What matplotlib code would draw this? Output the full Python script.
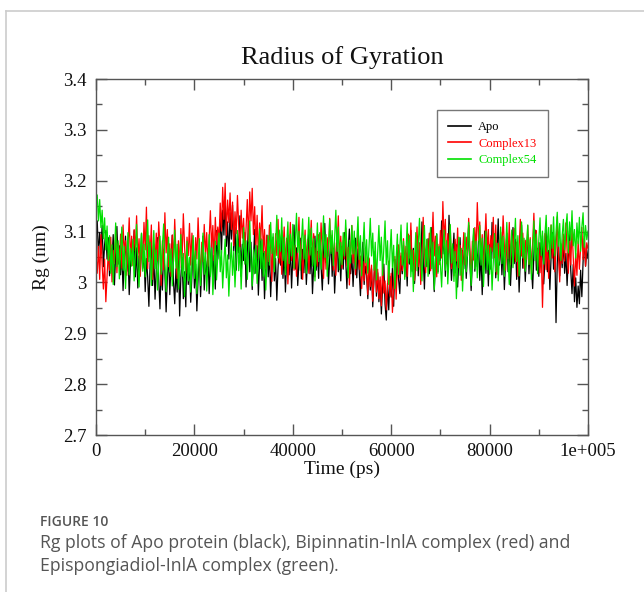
import numpy as np
import matplotlib
matplotlib.use("Agg")
import matplotlib.pyplot as plt
from matplotlib.lines import Line2D
from matplotlib.ticker import MultipleLocator

# ---------------- data (Rg in nm, sampled every 250 ps) ----------------
time_step_ps = 250
apo = [
    3.085, 3.121, 3.052, 3.098, 3.064, 3.112, 3.031, 3.074, 3.102, 3.046,
    3.088, 3.013, 3.067, 3.041, 3.094, 2.995, 3.058, 3.110, 3.036, 3.072,
    3.015, 3.063, 2.984, 3.047, 3.091, 3.022, 3.058, 2.976, 3.034, 3.081,
    3.043, 3.102, 3.011, 3.068, 2.989, 3.052, 3.017, 3.096, 3.028, 3.061,
    2.982, 3.047, 3.011, 2.953, 3.036, 3.078, 2.994, 3.052, 2.967, 3.024,
    3.088, 3.006, 2.948, 3.031, 2.985, 3.064, 3.019, 2.942, 3.008, 3.057,
    2.976, 3.041, 3.093, 3.002, 2.958, 3.027, 2.981, 3.066, 2.934, 3.012,
    3.049, 2.968, 3.021, 2.952, 3.075, 2.996, 3.038, 2.961, 3.014, 3.082,
    2.989, 3.036, 2.944, 3.007, 3.059, 2.972, 3.028, 3.091, 2.985, 3.043,
    3.012, 3.067, 2.978, 3.035, 3.084, 3.001, 3.053, 2.987, 3.102, 3.046,
    3.081, 3.124, 3.057, 3.142, 3.093, 3.168, 3.071, 3.119, 3.046, 3.137,
    3.085, 3.152, 3.062, 3.109, 3.024, 3.097, 3.058, 3.131, 3.012, 3.075,
    3.043, 3.098, 2.991, 3.062, 3.115, 3.021, 3.079, 2.986, 3.047, 3.104,
    3.018, 3.072, 2.975, 3.039, 3.086, 3.004, 3.061, 2.968, 3.025, 3.093,
    3.011, 3.058, 2.972, 3.036, 3.089, 3.003, 3.047, 2.965, 3.029, 3.077,
    3.034, 3.102, 3.008, 3.063, 2.981, 3.045, 3.092, 3.015, 3.071, 2.989,
    3.052, 3.113, 3.026, 3.068, 2.994, 3.041, 3.087, 3.007, 3.065, 3.019,
    3.076, 2.996, 3.043, 3.104, 3.017, 3.069, 2.978, 3.035, 3.091, 3.024,
    3.061, 3.008, 3.097, 3.032, 2.985, 3.054, 3.116, 3.039, 3.073, 2.997,
    3.046, 3.089, 3.012, 3.067, 2.979, 3.038, 3.094, 3.021, 3.058, 3.003,
    3.071, 3.026, 3.098, 3.043, 2.988, 3.062, 3.105, 3.017, 3.054, 2.992,
    3.048, 3.087, 3.009, 3.066, 3.023, 2.974, 3.041, 3.079, 2.996, 3.032,
    3.014, 2.968, 3.046, 2.985, 3.027, 2.952, 3.008, 3.061, 2.973, 3.019,
    2.962, 3.004, 2.938, 2.991, 3.036, 2.957, 2.926, 2.998, 2.946, 3.012,
    2.971, 3.028, 2.953, 3.045, 2.989, 3.064, 3.006, 2.978, 3.052, 3.017,
    3.073, 3.011, 3.058, 2.993, 3.084, 3.036, 3.102, 3.022, 3.067, 2.998,
    3.045, 3.091, 3.013, 3.072, 3.028, 3.119, 3.054, 2.987, 3.063, 3.031,
    3.086, 3.017, 3.059, 3.108, 3.034, 2.982, 3.047, 3.095, 3.021, 3.069,
    3.043, 3.121, 3.056, 3.094, 3.012, 3.077, 3.028, 3.132, 3.061, 3.004,
    3.052, 3.097, 3.019, 3.074, 2.991, 3.046, 3.088, 3.015, 3.063, 3.027,
    3.079, 3.008, 3.053, 3.112, 3.036, 2.984, 3.041, 3.096, 3.022, 3.068,
    3.031, 3.083, 3.004, 3.057, 2.976, 3.042, 3.101, 3.018, 3.066, 2.993,
    3.074, 3.026, 3.118, 3.047, 3.093, 3.009, 3.061, 3.125, 3.034, 3.082,
    3.015, 3.068, 2.986, 3.043, 3.097, 3.021, 3.076, 2.994, 3.052, 3.108,
    3.037, 3.085, 3.006, 3.062, 2.981, 3.049, 3.113, 3.028, 3.071, 3.002,
    3.058, 3.094, 3.017, 3.073, 3.032, 2.988, 3.056, 3.103, 3.024, 3.067,
    3.012, 3.078, 3.035, 3.092, 2.997, 3.044, 3.106, 3.021, 3.063, 2.986,
    3.051, 3.098, 3.026, 3.072, 2.921, 3.038, 3.087, 3.013, 3.065, 3.029,
    3.084, 3.018, 3.057, 2.994, 3.046, 3.101, 3.023, 2.978, 3.035, 2.962,
    3.009, 2.951, 2.993, 2.958, 3.024, 2.972, 3.041, 3.086, 3.032, 3.064,
    3.047,
]
complex13 = [
    3.052, 3.018, 3.071, 3.006, 3.094, 3.035, 2.987, 3.046, 2.962, 3.013,
    3.058, 3.024, 3.089, 3.001, 3.063, 3.037, 3.102, 3.019, 3.076, 3.042,
    3.095, 3.028, 3.113, 3.057, 3.082, 3.014, 3.068, 3.127, 3.045, 3.091,
    3.033, 3.104, 3.062, 3.131, 3.048, 3.086, 3.012, 3.073, 3.039, 3.118,
    3.064, 3.148, 3.027, 3.092, 3.051, 3.113, 3.006, 3.075, 3.036, 3.097,
    3.043, 3.119, 3.068, 2.994, 3.082, 3.025, 3.137, 3.058, 3.104, 3.031,
    3.076, 3.012, 3.093, 3.041, 3.124, 3.057, 3.008, 3.082, 3.029, 3.106,
    3.047, 3.135, 3.072, 3.018, 3.089, 3.053, 3.116, 3.034, 3.097, 3.063,
    3.021, 3.088, 3.046, 3.127, 3.062, 3.009, 3.079, 3.041, 3.114, 3.055,
    3.098, 3.032, 3.086, 3.141, 3.067, 3.112, 3.043, 3.128, 3.074, 3.109,
    3.082, 3.156, 3.101, 3.187, 3.124, 3.195, 3.093, 3.162, 3.118, 3.176,
    3.104, 3.158, 3.072, 3.139, 3.096, 3.171, 3.113, 3.064, 3.142, 3.087,
    3.126, 3.058, 3.107, 3.163, 3.081, 3.178, 3.121, 3.185, 3.094, 3.149,
    3.068, 3.132, 3.046, 3.117, 3.083, 3.151, 3.059, 3.104, 3.027, 3.092,
    3.041, 3.113, 3.067, 3.002, 3.085, 3.028, 3.096, 3.053, 3.124, 3.038,
    3.079, 3.016, 3.062, 3.109, 3.031, 3.087, 2.997, 3.054, 3.118, 3.043,
    3.091, 3.024, 3.073, 3.012, 3.065, 3.128, 3.047, 3.082, 3.006, 3.059,
    3.103, 3.036, 3.085, 3.018, 3.071, 3.122, 3.044, 3.096, 3.011, 3.068,
    3.032, 3.094, 3.049, 3.117, 3.063, 3.008, 3.079, 3.026, 3.088, 3.052,
    3.126, 3.061, 3.093, 3.024, 3.078, 3.014, 3.067, 3.131, 3.045, 3.091,
    3.028, 3.082, 3.046, 3.107, 3.033, 3.069, 2.995, 3.056, 3.112, 3.038,
    3.074, 3.015, 3.063, 3.097, 3.026, 3.052, 2.988, 3.041, 3.003, 3.067,
    3.021, 2.976, 3.048, 2.992, 3.034, 2.963, 3.012, 3.057, 2.981, 3.026,
    2.968, 3.011, 2.954, 3.037, 2.979, 3.003, 2.946, 2.991, 3.042, 2.973,
    3.018, 2.941, 2.989, 3.051, 2.967, 3.032, 3.074, 3.009, 3.058, 3.023,
    3.086, 3.034, 3.071, 3.012, 3.095, 3.048, 3.117, 3.026, 3.063, 3.004,
    3.057, 3.109, 3.031, 3.078, 2.996, 3.046, 3.128, 3.062, 3.019, 3.084,
    3.041, 3.097, 3.023, 3.069, 3.138, 3.052, 3.091, 3.011, 3.075, 3.035,
    3.102, 3.048, 3.159, 3.083, 3.124, 3.037, 3.096, 3.058, 3.112, 3.027,
    3.066, 3.013, 3.085, 3.042, 3.107, 3.029, 3.073, 3.004, 3.054, 3.098,
    3.035, 3.089, 3.052, 3.126, 3.067, 3.014, 3.081, 3.044, 3.108, 3.061,
    3.157, 3.082, 3.119, 3.046, 3.094, 3.023, 3.071, 3.135, 3.058, 3.104,
    3.037, 3.092, 3.061, 3.128, 3.049, 3.113, 3.016, 3.077, 3.042, 3.099,
    3.063, 3.131, 3.072, 3.024, 3.086, 3.047, 3.118, 3.035, 3.092, 3.058,
    3.106, 3.041, 3.079, 3.012, 3.068, 3.124, 3.052, 3.097, 3.028, 3.083,
    3.045, 3.112, 3.036, 3.088, 3.017, 3.074, 3.136, 3.059, 3.102, 3.031,
    3.078, 3.019, 3.064, 2.951, 3.043, 3.096, 3.025, 3.087, 3.008, 3.071,
    3.113, 3.048, 3.092, 3.021, 3.067, 3.129, 3.054, 3.001, 3.076, 3.037,
    3.095, 3.042, 3.117, 3.063, 3.018, 3.081, 3.034, 3.106, 3.049, 2.993,
    3.057, 3.014, 3.082, 3.026, 3.069, 3.108, 3.045, 3.091, 3.032, 3.078,
    3.066,
]
complex54 = [
    3.148, 3.172, 3.121, 3.163, 3.108, 3.142, 3.086, 3.127, 3.064, 3.111,
    3.043, 3.092, 3.018, 3.074, 2.996, 3.058, 3.117, 3.031, 3.082, 3.007,
    3.063, 3.109, 3.024, 3.071, 2.988, 3.046, 3.098, 3.015, 3.067, 3.032,
    3.085, 3.003, 3.052, 3.114, 3.036, 2.991, 3.061, 3.097, 3.022, 3.075,
    3.011, 3.068, 3.123, 3.041, 3.079, 2.994, 3.053, 3.102, 3.027, 3.064,
    2.985, 3.038, 3.091, 3.016, 3.072, 3.115, 3.034, 2.982, 3.047, 3.089,
    3.021, 3.066, 2.993, 3.044, 3.103, 3.028, 3.075, 2.987, 3.039, 3.094,
    3.012, 3.057, 2.972, 3.026, 3.081, 3.003, 3.049, 2.981, 3.035, 3.092,
    3.008, 3.062, 2.978, 3.031, 3.086, 2.994, 3.043, 3.097, 3.016, 3.059,
    2.983, 3.037, 3.094, 3.012, 3.068, 2.976, 3.024, 3.081, 3.005, 3.051,
    3.097, 3.021, 3.063, 2.989, 3.041, 3.085, 3.009, 3.054, 2.973, 3.032,
    3.078, 3.014, 3.061, 2.991, 3.046, 3.102, 3.023, 3.069, 2.987, 3.053,
    3.108, 3.036, 3.082, 3.006, 3.057, 3.121, 3.042, 2.993, 3.064, 3.017,
    3.073, 2.998, 3.046, 3.105, 3.027, 3.084, 3.012, 3.061, 2.985, 3.039,
    3.092, 3.034, 3.118, 3.057, 3.096, 3.021, 3.074, 3.132, 3.048, 3.103,
    3.061, 3.127, 3.043, 3.089, 3.015, 3.072, 3.119, 3.037, 3.095, 3.052,
    3.114, 3.028, 3.083, 3.136, 3.059, 3.101, 3.024, 3.078, 3.125, 3.046,
    3.093, 3.018, 3.071, 3.128, 3.054, 3.107, 3.032, 3.086, 3.003, 3.062,
    3.117, 3.041, 3.098, 3.026, 3.075, 3.131, 3.049, 3.094, 3.012, 3.068,
    3.124, 3.057, 3.102, 3.033, 3.087, 3.142, 3.061, 3.109, 3.025, 3.079,
    3.035, 3.098, 3.052, 3.123, 3.064, 3.009, 3.083, 3.038, 3.112, 3.056,
    3.101, 3.027, 3.076, 3.129, 3.045, 3.092, 3.013, 3.067, 3.118, 3.039,
    3.084, 3.018, 3.071, 3.126, 3.052, 3.097, 3.024, 3.079, 3.005, 3.061,
    3.112, 3.043, 3.089, 3.014, 3.066, 3.121, 3.035, 3.082, 2.996, 3.058,
    3.104, 3.029, 3.073, 2.988, 3.047, 3.095, 3.016, 3.068, 3.113, 3.034,
    3.081, 3.006, 3.059, 3.117, 3.038, 3.092, 3.011, 3.064, 2.982, 3.045,
    3.098, 3.023, 3.074, 3.126, 3.049, 3.003, 3.067, 3.112, 3.031, 3.085,
    3.012, 3.063, 3.108, 3.027, 3.079, 2.986, 3.044, 3.096, 3.018, 3.071,
    3.035, 2.991, 3.058, 3.103, 3.024, 3.082, 2.997, 3.049, 3.114, 3.038,
    3.076, 3.002, 3.061, 2.968, 3.033, 3.089, 3.014, 3.067, 2.983, 3.042,
    3.097, 3.021, 3.065, 3.118, 3.043, 2.994, 3.058, 3.106, 3.027, 3.081,
    3.009, 3.063, 3.112, 3.034, 3.087, 2.992, 3.048, 3.101, 3.025, 3.073,
    3.016, 3.068, 2.985, 3.042, 3.096, 3.021, 3.077, 3.003, 3.054, 3.109,
    3.037, 3.091, 3.012, 3.064, 3.118, 3.045, 2.996, 3.058, 3.103, 3.029,
    3.074, 3.126, 3.041, 3.092, 3.013, 3.066, 3.119, 3.048, 3.087, 3.022,
    3.069, 3.113, 3.035, 3.084, 3.006, 3.057, 3.121, 3.043, 3.095, 3.017,
    3.082, 3.127, 3.053, 3.101, 3.036, 3.094, 3.132, 3.061, 3.108, 3.045,
    3.113, 3.067, 3.129, 3.052, 3.098, 3.138, 3.071, 3.116, 3.043, 3.092,
    3.124, 3.064, 3.107, 3.135, 3.058, 3.119, 3.083, 3.141, 3.072, 3.104,
    3.048, 3.117, 3.076, 3.128, 3.061, 3.109, 3.137, 3.069, 3.112, 3.084,
    3.101,
]
series_labels = ["Apo", "Complex13", "Complex54"]
series_colors = ["#000000", "#ff0000", "#00e000"]
x_ticks = [0, 20000, 40000, 60000, 80000, 100000]
x_tick_labels = ["0", "20000", "40000", "60000", "80000", "1e+005"]
y_ticks = [2.7, 2.8, 2.9, 3.0, 3.1, 3.2, 3.3, 3.4]
y_tick_labels = ["2.7", "2.8", "2.9", "3", "3.1", "3.2", "3.3", "3.4"]

# ---------------- figure ----------------
W, H = 644, 592
fig = plt.figure(figsize=(W / 100, H / 100), dpi=100)
serif = ["Liberation Serif", "DejaVu Serif"]
sans = ["Open Sans", "Noto Sans", "DejaVu Sans"]

ax_l, ax_r, ax_t, ax_b = 96, 588, 79, 435
ax = fig.add_axes([ax_l / W, 1 - ax_b / H, (ax_r - ax_l) / W, (ax_b - ax_t) / H])

t = np.arange(len(apo)) * time_step_ps
for vals, lab, col in zip([apo, complex13, complex54], series_labels, series_colors):
    ax.plot(t, vals, color=col, lw=0.9, label=lab)

ax.set_xlim(0, 100000)
ax.set_ylim(2.7, 3.4)
ax.set_xticks(x_ticks)
ax.set_xticklabels(x_tick_labels)
ax.set_yticks(y_ticks)
ax.set_yticklabels(y_tick_labels)
ax.xaxis.set_minor_locator(MultipleLocator(10000))
ax.yaxis.set_minor_locator(MultipleLocator(0.05))
frame_col = "#555555"
for s in ax.spines.values():
    s.set_color(frame_col)
    s.set_linewidth(1.0)
ax.tick_params(which="both", direction="in", top=True, right=True, color=frame_col, width=1.0)
ax.tick_params(which="major", length=8, labelsize=13.5)
ax.tick_params(axis="x", which="major", pad=6)
ax.tick_params(axis="y", which="major", pad=7)
ax.tick_params(which="minor", length=4)
for lbl in ax.get_xticklabels() + ax.get_yticklabels():
    lbl.set_fontfamily(serif)
    lbl.set_color("#111111")

ax.set_xlabel("Time (ps)", fontsize=14, fontfamily=serif, color="#111111", labelpad=0)
ax.set_ylabel("Rg (nm)", fontsize=14, fontfamily=serif, color="#111111", labelpad=9)
ax.set_title("Radius of Gyration", fontsize=19, fontfamily=serif, color="#111111", pad=11)

leg = ax.legend(loc="upper left", bbox_to_anchor=((437 - ax_l) / (ax_r - ax_l), (ax_b - 110) / (ax_b - ax_t)),
                frameon=True, fancybox=False, edgecolor="#777777", framealpha=1,
                prop={"family": serif, "size": 9}, labelcolor="linecolor",
                handlelength=1.8, handletextpad=0.6, borderpad=0.9, labelspacing=0.35,
                borderaxespad=0)
leg.get_frame().set_linewidth(1.0)
for h in leg.get_lines():
    h.set_linewidth(1.2)

# figure border lines (page frame)
fig.add_artist(Line2D([6 / W, 1], [1 - 11 / H, 1 - 11 / H], color="#cccccc", lw=1.2))
fig.add_artist(Line2D([6 / W, 6 / W], [0, 1 - 11 / H], color="#cccccc", lw=1.2))

# caption
fig.text(40 / W, 1 - 522 / H, "FIGURE 10", fontsize=10, fontfamily=sans, fontweight="semibold",
         color="#555555", va="center")
fig.text(40 / W, 1 - 543 / H, "Rg plots of Apo protein (black), Bipinnatin-InlA complex (red) and",
         fontsize=12.7, fontfamily=sans, color="#555555", va="center")
fig.text(40 / W, 1 - 566 / H, "Epispongiadiol-InlA complex (green).",
         fontsize=12.7, fontfamily=sans, color="#555555", va="center")

fig.savefig("out.png", dpi=100)
